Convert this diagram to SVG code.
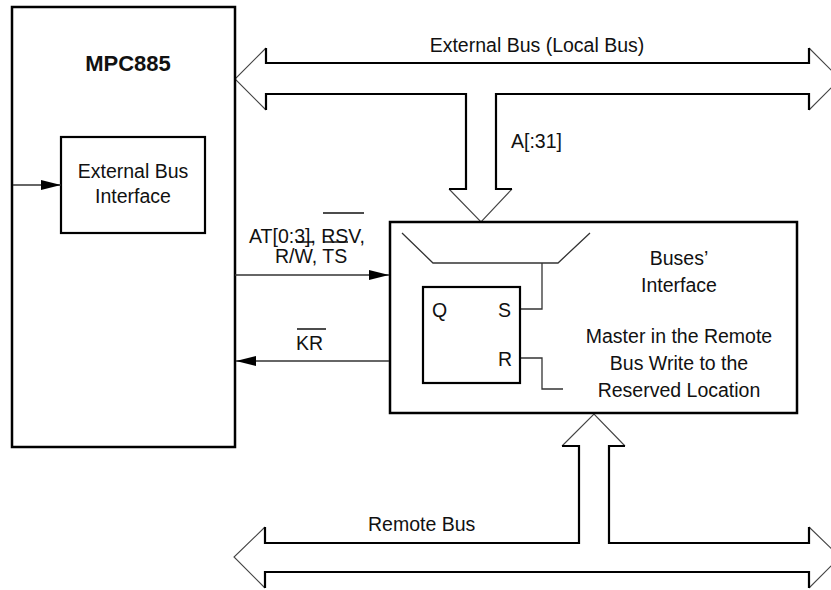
<svg xmlns="http://www.w3.org/2000/svg" width="831" height="590" viewBox="0 0 831 590">
<style>
text{font-family:"Liberation Sans",Arial,sans-serif;font-size:19.5px;fill:#111}
.c{text-anchor:middle}
.box{fill:none;stroke:#000;stroke-width:2.5}
.thick{fill:none;stroke:#000;stroke-width:2.2}
.thin{fill:none;stroke:#444;stroke-width:1.1}
.wire{fill:none;stroke:#333;stroke-width:1.3}
.sig{fill:none;stroke:#333;stroke-width:1.3}
.ol{stroke:#111;stroke-width:1.5}
</style>
<defs>
<marker id="ah" markerUnits="userSpaceOnUse" markerWidth="20" markerHeight="10" refX="20" refY="5" orient="auto">
<path d="M0,0 L20,5 L0,10 z" fill="#000"/>
</marker>
</defs>
<rect width="831" height="590" fill="#fff"/>

<g id="external-bus">
<path class="thin" d="M266,48 L235,79 L266,110 M809,48 L840,79 L809,110 M449,189 L481,222 L512,189"/>
<path class="thick" d="M266,48 V63 H809 V48 M266,110 V94 H466 V189 H449 M512,189 H496 V94 H809 V110"/>
<text x="537" y="52" class="c">External Bus (Local Bus)</text>
<text x="511" y="148">A[:31]</text>
</g>

<g id="remote-bus">
<path class="thin" d="M265,527 L234,557 L265,588 M809,527 L840,557 L809,588 M562,446 L594,414 L625,446"/>
<path class="thick" d="M265,527 V543 H579 V446 H562 M625,446 H609 V543 H809 V527 M265,588 V572 H809 V588"/>
<text x="368" y="531">Remote Bus</text>
</g>

<g id="mpc885">
<rect class="box" x="12" y="7" width="223" height="440"/>
<text x="128" y="71" class="c" style="font-weight:bold;font-size:22px">MPC885</text>
</g>

<g id="external-bus-interface">
<rect class="box" x="61" y="137" width="144" height="96" style="stroke-width:2.2"/>
<text x="133" y="178" class="c">External Bus</text>
<text x="133" y="203" class="c">Interface</text>
</g>

<g id="buses-interface">
<rect class="box" x="390" y="222" width="407" height="191"/>
<path class="wire" d="M402,233 L433,263 H558 L590,233"/>
<path class="wire" d="M542,263 V309 H520"/>
<path class="wire" d="M520,358 H542 V389 H563"/>
<g id="flip-flop">
<rect class="box" x="423" y="287" width="97" height="96" style="stroke-width:2.2"/>
<text x="432" y="317">Q</text>
<text x="498" y="317">S</text>
<text x="498" y="366">R</text>
</g>
<text x="679" y="265" class="c">Buses’</text>
<text x="679" y="292" class="c">Interface</text>
<text x="679" y="343" class="c">Master in the Remote</text>
<text x="679" y="370" class="c">Bus Write to the</text>
<text x="679" y="397" class="c">Reserved Location</text>
</g>

<g id="connectors">
<line class="sig" x1="13" y1="185" x2="61" y2="185" marker-end="url(#ah)"/>
<line class="sig" x1="235" y1="275" x2="389" y2="275" marker-end="url(#ah)"/>
<line class="sig" x1="389" y1="361" x2="236" y2="361" marker-end="url(#ah)"/>
<text x="249" y="243">AT[0:3], RSV,</text>
<line class="ol" x1="323" y1="213" x2="364" y2="213"/>
<text x="275" y="263">R/W, TS</text>
<line class="ol" x1="296" y1="242" x2="313" y2="242"/>
<line class="ol" x1="323" y1="242" x2="348" y2="242"/>
<text x="296" y="350">KR</text>
<line class="ol" x1="297" y1="329" x2="326" y2="329"/>
</g>
</svg>
